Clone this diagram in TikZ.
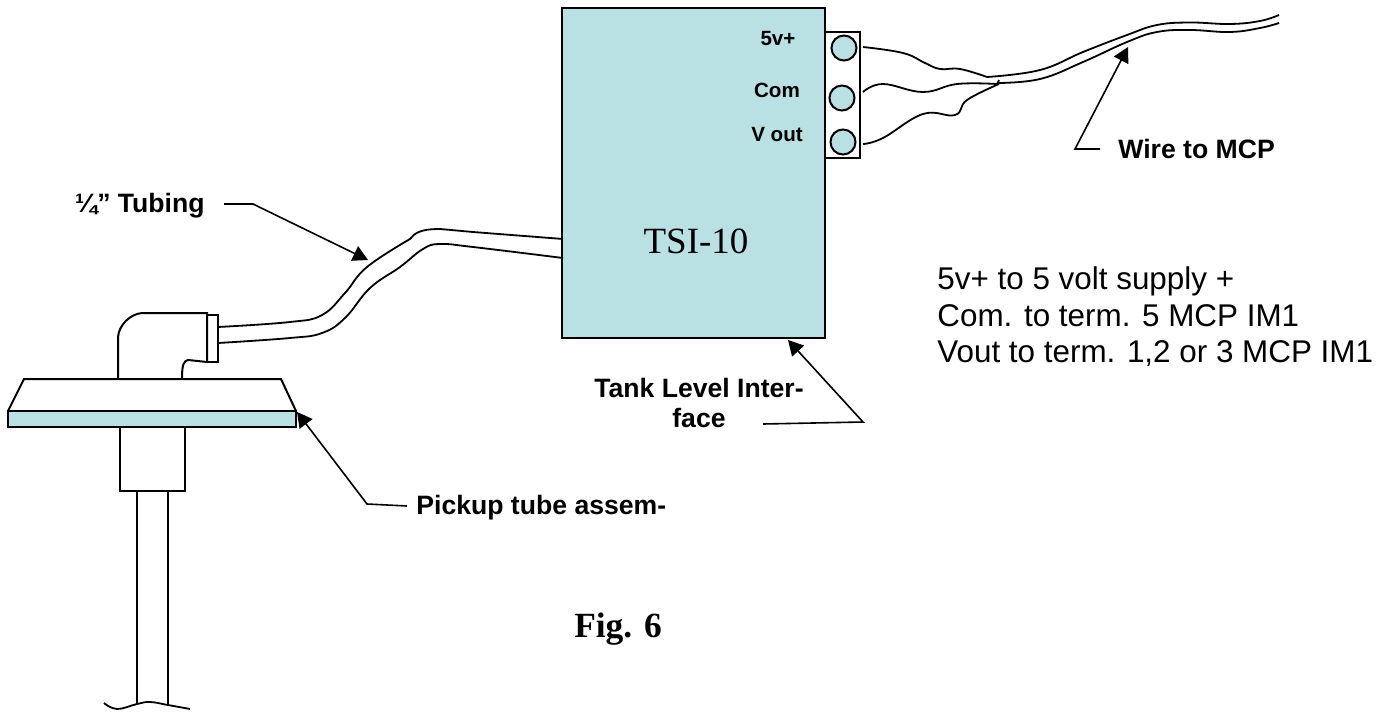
\documentclass[tikz,border=0pt]{standalone}
\usepackage{fontspec}
\setmainfont{Liberation Sans}
\newfontfamily\timesfont{Liberation Serif}
\usepackage{tkz-euclide}
\usetikzlibrary{arrows.meta,positioning}
\definecolor{tankblue}{HTML}{B9E0E3}
\tikzset{
  callout/.style={font=\bfseries\fontsize{13.3}{15}\selectfont,align=center,inner sep=0pt},
  term/.style={font=\bfseries\fontsize{10.3}{12}\selectfont,inner sep=0pt},
  note/.style={font=\fontsize{15.7}{18.3}\selectfont,align=left,inner sep=0pt,anchor=west},
  leader/.style={line width=0.8pt,-{Triangle[length=7.5pt,width=8pt]}},
  wire/.style={line width=0.9pt},
  part/.style={line width=1pt}
}
\begin{document}
\begin{tikzpicture}[x=0.5pt,y=-0.5pt,line join=miter]
\useasboundingbox (0,0) rectangle (1396,712);
\tkzDefPoints{224/204/T1,253/204/T2,368/260/T3,407/506/P1,367/504/P2,297/412/P3}
\tkzDefPoints{763/424/L1,863/422/L2,788/340/L3,1100/149/W1,1075/149/W2,1128/47/W3}
% interface box with terminals
\draw[part,fill=tankblue](562,8)rectangle(825,338);
\draw[part](825,32)rectangle(860,158);
\draw[part,fill=tankblue](844,48)circle(12.5)(842,98)circle(12.5)(843,142)circle(12.5);
\node[term](lblFive)at(778,39){5v+};
\node[term](lblCom)at(777,90){Com};
\node[term](lblVout)at(777,135){V out};
\node[font=\timesfont\fontsize{18.5}{18.5}\selectfont,inner sep=0pt,anchor=base](lblTSI)at(696,253){TSI-10};
% wires to the cable
\draw[wire]plot[smooth,tension=0.7]coordinates{(863,47)(903,53)(925,63)(940,69)(960,69)(987,77)};
\draw[wire]plot[smooth,tension=0.7]coordinates{(863,92)(883,84)(923,92)(957,84)(997,84)}--(999,80);
\draw[wire]plot[smooth,tension=0.7]coordinates{(863,144)(883,138)(923,114)(955,115)(967,100)(999,84)};
\draw[wire]plot[smooth,tension=0.7]coordinates{(987,77)(1040,70)(1083,52)(1127,35)(1157,25)(1190,22.5)(1230,24)(1260,21)(1279,15)};
\draw[wire]plot[smooth,tension=0.7]coordinates{(997,83)(1040,79)(1083,62)(1127,42)(1157,32)(1190,30)(1230,32)(1260,28)(1279,23)};
% tubing
\draw[wire]plot[smooth,tension=0.7]coordinates{(218,327)(290,322)(322,315)(345,293)(367,267)(410,239)}..controls(415,233)and(420,229)..(440,229)--(473,232)--(563,239);
\draw[wire]plot[smooth,tension=0.7]coordinates{(218,343)(290,338)(322,333)(345,318)(370,288)(400,267)(423,249)(440,244)(473,247)(563,258)};
% elbow and plate
\draw[part](118,378)--(118,337)..controls(119,325)and(130,314)..(142,313)--(207,313)--(207,362)--(188,360)..controls(184,361)and(182,364)..(182,378);
\draw[part](207,315)rectangle(218,362);
\draw[part](8,411)--(24,379)--(281,379)--(296,411);
\draw[part,fill=tankblue](8,411)rectangle(296,427);
\draw[part](120,427)--(120,491)--(185,491)--(185,427);
\draw[wire](137,491)--(137,704)(168,491)--(168,705);
\draw[wire]plot[smooth,tension=0.7]coordinates{(104,703)(117,709)(137,704)(150,702)(168,705)(190,709)};
% leaders and callouts
\draw[leader](T1)--(T2)--(T3);
\draw[leader](P1)--(P2)--(P3);
\draw[leader](L1)--(L2)--(L3);
\draw[leader](W1)--(W2)--(W3);
\node[callout,anchor=east](lblTubing)at(205,206){¼” Tubing};
\node[callout,anchor=west](lblPickup)at(416,508){Pickup tube assem-};
\node[callout](lblTank)at(699,403){Tank Level Inter-\\face};
\node[callout,anchor=west](lblWire)at(1118,149){Wire to MCP};
\node[note](lblNotes)at(937,317){5v+ to 5 volt supply +\\Com. to term. 5 MCP IM1\\Vout to term. 1,2 or 3 MCP IM1};
\node[font=\timesfont\bfseries\fontsize{17.7}{17.7}\selectfont,inner sep=0pt,anchor=base](lblFig)at(618,637){Fig. 6};
\end{tikzpicture}
\end{document}
